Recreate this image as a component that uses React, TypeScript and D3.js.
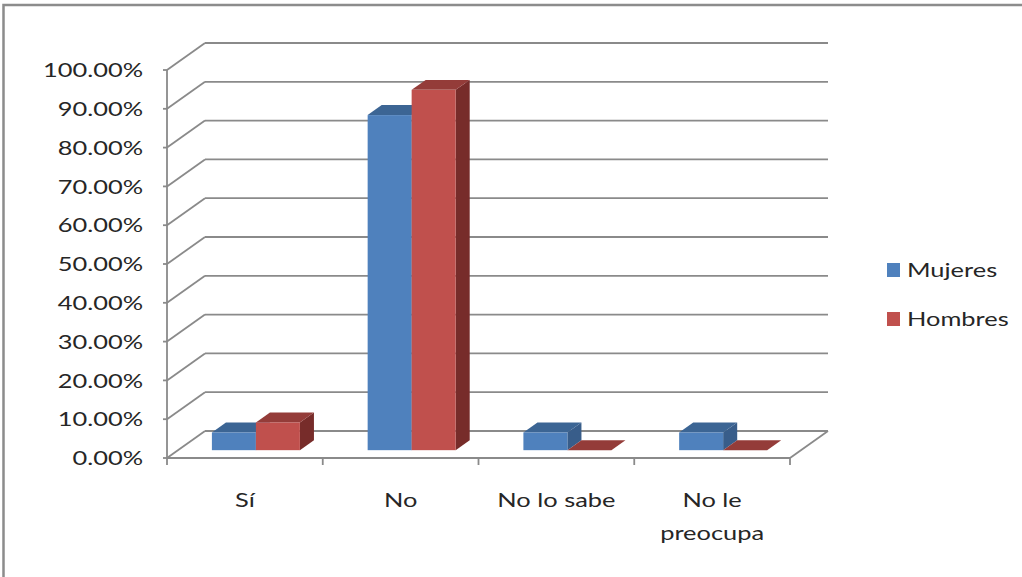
import React from 'react';
import * as d3 from 'd3';

const categories = ['Sí', 'No', 'No lo sabe', 'No le preocupa'];
const categoryLines = [['Sí'], ['No'], ['No lo sabe'], ['No le', 'preocupa']];
const seriesNames = ['Mujeres', 'Hombres'];
const mujeres = [0.0455, 0.8636, 0.0455, 0.0455];
const hombres = [0.0714, 0.9286, 0, 0];
const yTicks = [0, 0.1, 0.2, 0.3, 0.4, 0.5, 0.6, 0.7, 0.8, 0.9, 1];

const colors = {
  Mujeres: { front: '#4F81BD', top: '#3C6594', side: '#385D8A' },
  Hombres: { front: '#C0504D', top: '#943C39', side: '#772C2A' },
};

const width = 1022;
const height = 577;
const font = 'Lato, "Open Sans", sans-serif';
const stretch = 'scale(1.27,1)';

const App = () => {
  const y = d3.scaleLinear().domain([0, 1]).range([458, 70]);
  const x = d3.scaleBand().domain(categories).range([167, 790]).padding(0);
  const x1 = d3.scaleBand().domain(seriesNames).range([0, x.bandwidth()]).paddingInner(0).paddingOuter(0.77);
  const fmt = d3.format('.2%');

  // depth of the floor (oblique projection)
  const depthX = 38;
  const depthY = -27;
  const barStart = 0.29;
  const barEnd = 0.66;
  const left = x.range()[0];
  const right = x.range()[1];

  const bars: JSX.Element[] = [];
  categories.forEach((c, i) => {
    seriesNames.forEach((s) => {
      const v = s === 'Mujeres' ? mujeres[i] : hombres[i];
      const col = colors[s as 'Mujeres' | 'Hombres'];
      const x0 = (x(c) as number) + (x1(s) as number) + depthX * barStart;
      const xe = x0 + x1.bandwidth();
      const top = y(v) + depthY * barStart;
      const bot = y(0) + depthY * barStart;
      const ddx = depthX * (barEnd - barStart);
      const ddy = depthY * (barEnd - barStart);
      bars.push(
        <g key={c + s}>
          <polygon
            points={`${xe},${top} ${xe + ddx},${top + ddy} ${xe + ddx},${bot + ddy} ${xe},${bot}`}
            fill={col.side}
          />
          <polygon
            points={`${x0},${top} ${xe},${top} ${xe + ddx},${top + ddy} ${x0 + ddx},${top + ddy}`}
            fill={col.top}
          />
          <rect x={x0} y={top} width={xe - x0} height={bot - top} fill={col.front} />
        </g>
      );
    });
  });

  return (
    <svg width={width} height={height} style={{ position: 'absolute', left: 0, top: 0, background: '#fff' }}>
      {/* outer frame */}
      <path d={`M3.5,${height} V5 H${width}`} fill="none" stroke="#8c8c8c" strokeWidth={2.5} />

      {/* back wall gridlines and left wall diagonals */}
      {yTicks.map((t) => (
        <g key={t} stroke="#8a8a8a" strokeWidth={1.8} fill="none">
          <line x1={left + depthX} x2={right + depthX} y1={y(t) + depthY} y2={y(t) + depthY} />
          <line x1={left} x2={left + depthX} y1={y(t)} y2={y(t) + depthY} />
          <line x1={left - 4} x2={left} y1={y(t)} y2={y(t)} />
        </g>
      ))}

      {/* floor front edge, right edge, axis */}
      <g stroke="#8a8a8a" strokeWidth={1.8} fill="none">
        <line x1={left} x2={left} y1={y(1)} y2={y(0)} />
        <line x1={left} x2={right} y1={y(0)} y2={y(0)} />
        <line x1={right} x2={right + depthX} y1={y(0)} y2={y(0) + depthY} />
        {[...categories.map((c) => x(c) as number), right].map((p) => (
          <line key={p} x1={p} x2={p} y1={y(0)} y2={y(0) + 7} />
        ))}
      </g>

      {bars}

      {/* y axis labels */}
      {yTicks.map((t) => (
        <g key={'l' + t} transform={`translate(143,${y(t)}) ${stretch}`}>
          <text textAnchor="end" dy="0.36em" fontFamily={font} fontSize={20} fill="#262626">
            {fmt(t)}
          </text>
        </g>
      ))}

      {/* category labels */}
      {categories.map((c, i) => (
        <g key={'c' + c} transform={`translate(${(x(c) as number) + x.bandwidth() / 2},500) ${stretch}`}>
          {categoryLines[i].map((line, j) => (
            <text key={line} y={j * 33} textAnchor="middle" dy="0.36em" fontFamily={font} fontSize={20} fill="#262626">
              {line}
            </text>
          ))}
        </g>
      ))}

      {/* legend */}
      {seriesNames.map((s, i) => (
        <g key={'lg' + s} transform={`translate(887,${270 + i * 49})`}>
          <rect x={0} y={-7} width={13} height={14} fill={colors[s as 'Mujeres' | 'Hombres'].front} />
          <g transform={`translate(20,0) ${stretch}`}>
            <text dy="0.36em" fontFamily={font} fontSize={20} fill="#262626">
              {s}
            </text>
          </g>
        </g>
      ))}
    </svg>
  );
};

export default App;
